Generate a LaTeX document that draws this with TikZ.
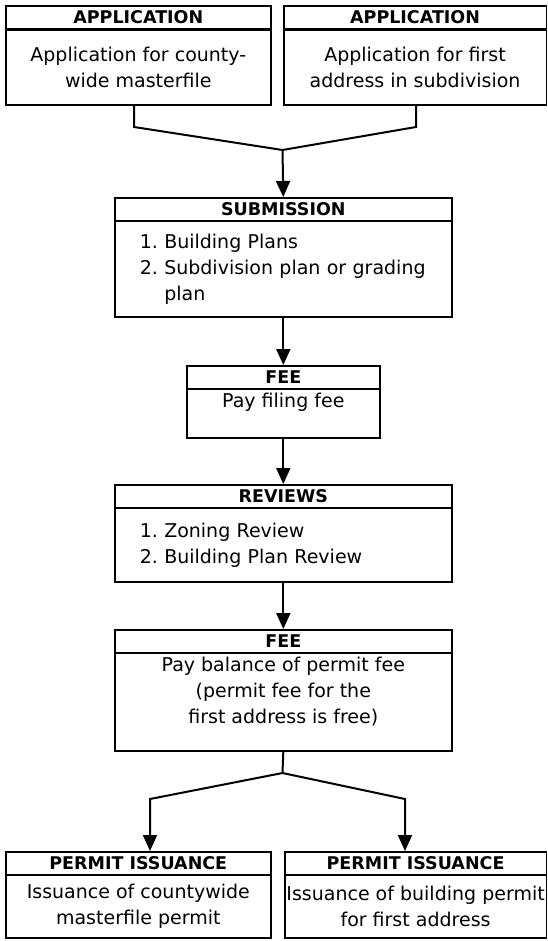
\documentclass[tikz,border=0pt]{standalone}
\usepackage{fontspec}
\setmainfont{DejaVu Sans}
\usetikzlibrary{arrows.meta, positioning}

\begin{document}
\begin{tikzpicture}[
    x=1pt, y=-1pt,
    font=\fontsize{19}{26}\selectfont,
    head/.style={draw=black, line width=1.6pt, anchor=north west, inner sep=0pt, minimum height=23pt, font=\fontsize{17.5}{20}\selectfont\bfseries},
    body/.style={draw=black, line width=1.6pt, anchor=north west, inner sep=0pt, align=center},
    listbody/.style={body, align=left, inner xsep=25pt, text width=287pt},
    txt/.style={inner sep=0pt, align=center},
    link/.style={line width=2pt, draw=black},
    arrow/.style={link, -{Triangle[length=16pt, width=14pt]}}
  ]
    \useasboundingbox (0,0) rectangle (547,941);

    % Applications
    \node[head, minimum width=265pt] (app1h) at (5,5) {APPLICATION};
    \node[body, minimum width=265pt, minimum height=75pt] (app1b) at (5,29) {Application for county-\\wide masterfile};
    \node[head, minimum width=262.5pt] (app2h) at (283,5) {APPLICATION};
    \node[body, minimum width=262.5pt, minimum height=75pt] (app2b) at (283,29) {Application for first\\address in subdivision};

    % Submission
    \node[head, minimum width=337pt] (subh) at (114,197) {SUBMISSION};
    \node[listbody, minimum height=96pt] (subb) at (114,220) {1.~Building Plans\\2.~Subdivision plan or grading\\\phantom{2.~}plan};

    % Filing fee
    \node[head, minimum width=193pt] (fee1h) at (186,365) {FEE};
    \node[body, minimum width=193pt, minimum height=49pt] (fee1b) at (186,388) {};
    \node[txt, below=5pt of fee1b.north] (fee1t) {Pay filing fee};

    % Reviews
    \node[head, minimum width=337pt] (revh) at (114,484) {REVIEWS};
    \node[listbody, minimum height=74pt] (revb) at (114,507) {1.~Zoning Review\\2.~Building Plan Review};

    % Permit fee
    \node[head, minimum width=337pt] (fee2h) at (114,629) {FEE};
    \node[body, minimum width=337pt, minimum height=98pt] (fee2b) at (114,652) {};
    \node[txt, below=5pt of fee2b.north] (fee2t) {Pay balance of permit fee\\(permit fee for the\\first address is free)};

    % Permit issuance
    \node[head, minimum width=265pt] (p1h) at (5,851) {PERMIT ISSUANCE};
    \node[body, minimum width=265pt, minimum height=63pt] (p1b) at (5,874) {Issuance of countywide\\masterfile permit};
    \node[head, minimum width=261.5pt] (p2h) at (284,851) {PERMIT ISSUANCE};
    \node[body, minimum width=261.5pt, minimum height=63pt] (p2b) at (284,874) {Issuance of building permit\\for first address};

    % Connectors
    \coordinate (k1) at (134,127);
    \coordinate (k2) at (416,127);
    \coordinate (j1) at (282.5,150);
    \draw[link] (k1 |- app1b.south) -- (k1) -- (j1) -- (k2) -- (k2 |- app2b.south);
    \draw[arrow] (j1) -- (subh.north);
    \draw[arrow] (subb.south) -- (fee1h.north);
    \draw[arrow] (fee1b.south) -- (revh.north);
    \draw[arrow] (revb.south) -- (fee2h.north);

    \coordinate (j2) at (282.5,773);
    \coordinate (k3) at (150,799);
    \coordinate (k4) at (405,799);
    \draw[link] (fee2b.south) -- (j2);
    \draw[arrow] (j2) -- (k3) -- (k3 |- p1h.north);
    \draw[arrow] (j2) -- (k4) -- (k4 |- p2h.north);
  \end{tikzpicture}
\end{document}
